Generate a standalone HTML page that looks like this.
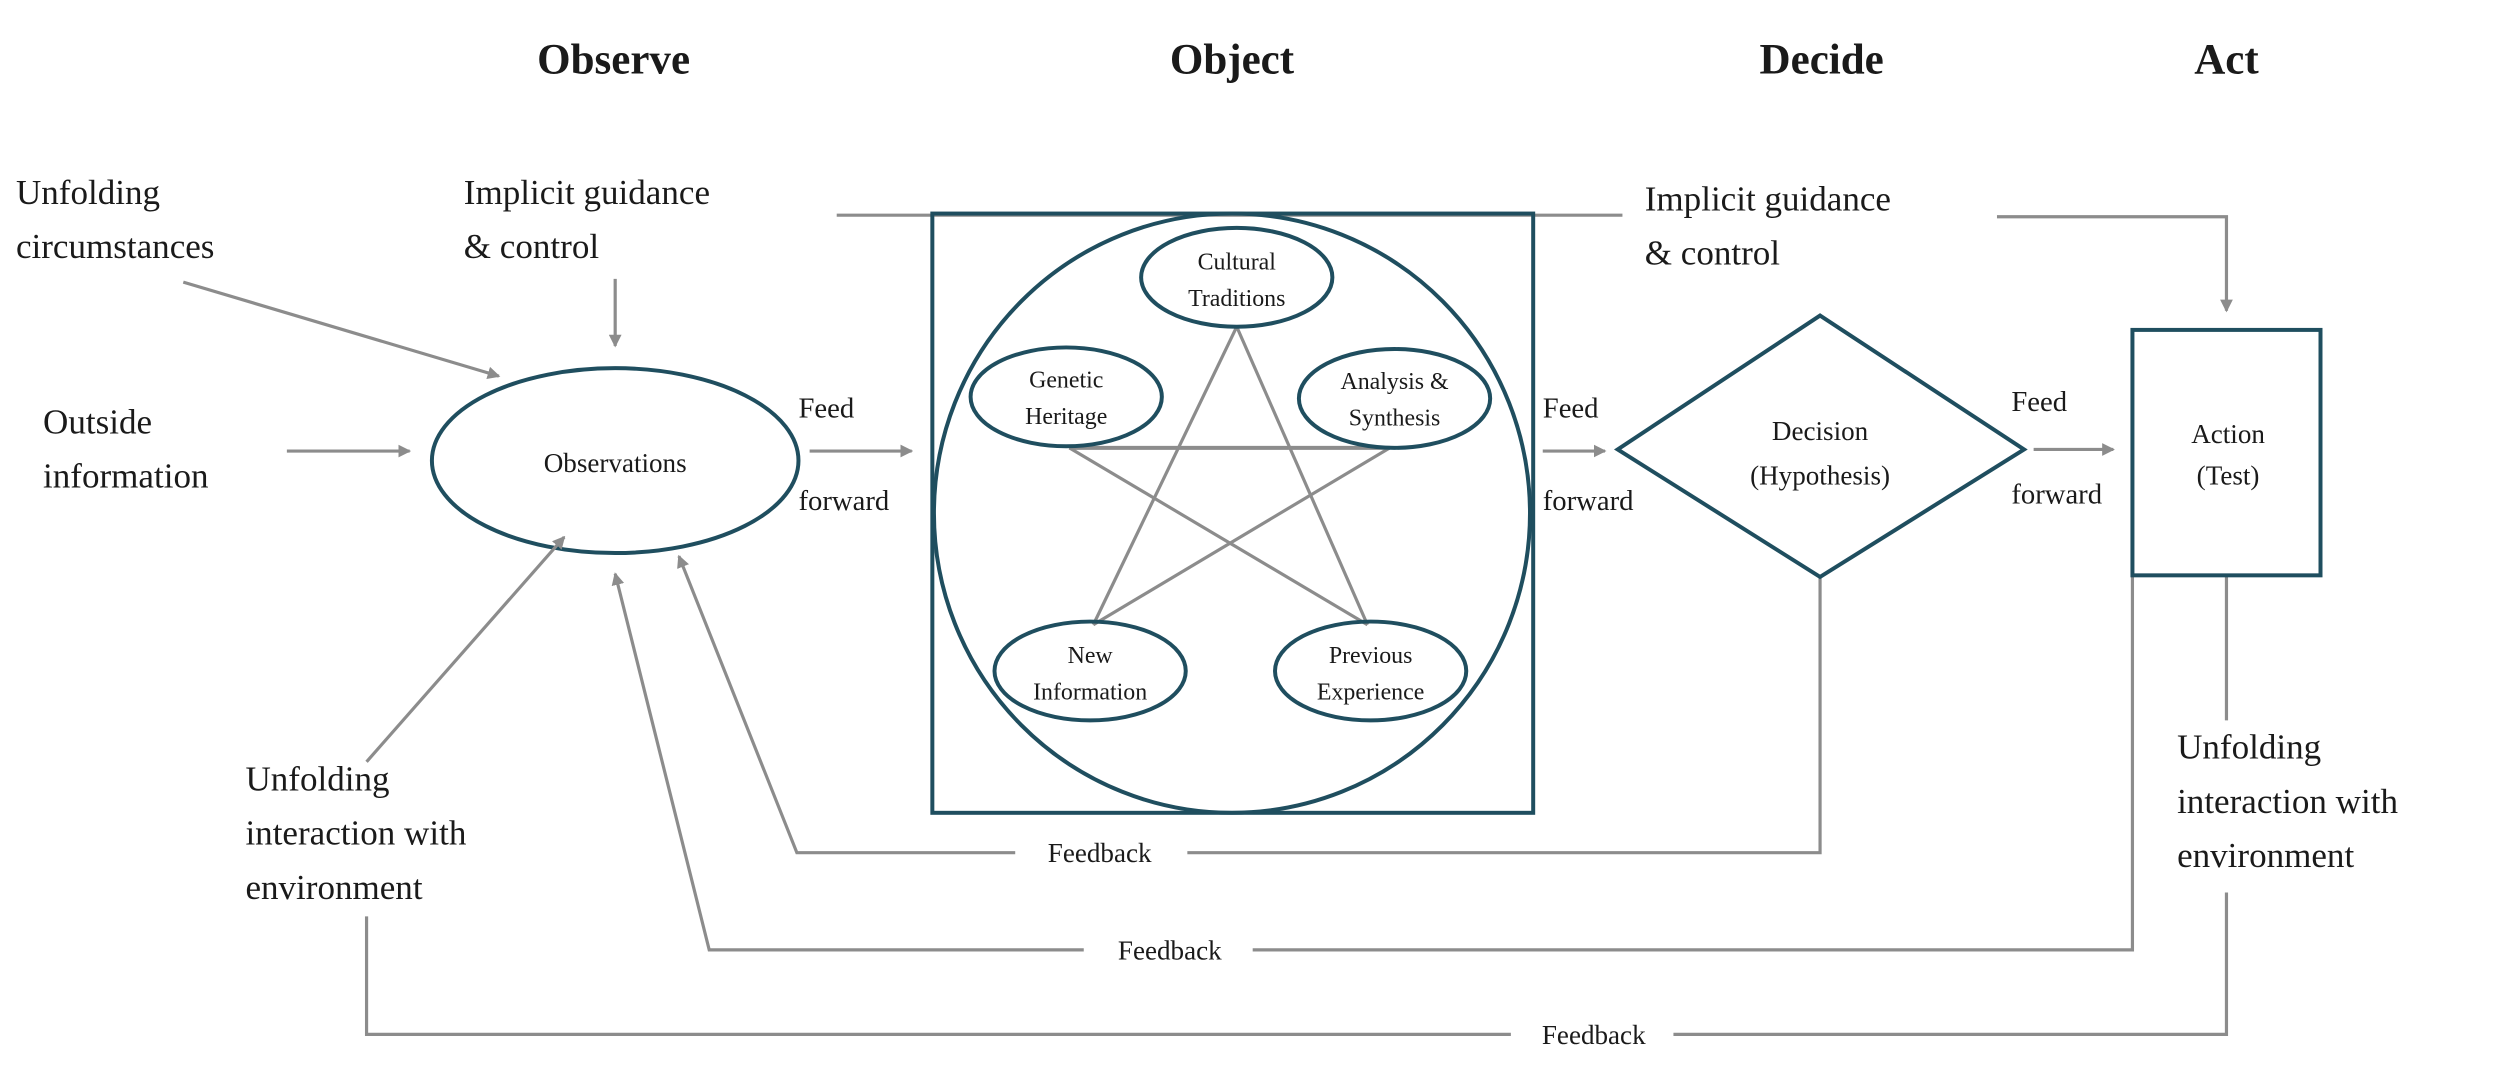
<!DOCTYPE html>
<html><head><meta charset="utf-8"><style>
html,body{margin:0;padding:0;background:#fff;}
svg{display:block;}
text{font-family:"Liberation Serif",serif;fill:#1a1a1a;}
</style></head><body>
<svg width="2499" height="1071" viewBox="0 0 1568 672" preserveAspectRatio="none" xmlns="http://www.w3.org/2000/svg">
<defs>
<marker id="a" markerWidth="8" markerHeight="8" refX="7" refY="4" orient="auto" markerUnits="userSpaceOnUse">
<path d="M0,0 L8,4 L0,8 z" fill="#8c8c8c"/></marker>
</defs>
<g font-weight="bold" font-size="27" text-anchor="middle">
<text x="385" y="46">Observe</text><text x="773" y="46">Object</text>
<text x="1143" y="46">Decide</text><text x="1397" y="46">Act</text>
</g>
<g font-size="22">
<text x="10" y="128">Unfolding</text><text x="10" y="162">circumstances</text>
<text x="291" y="128">Implicit guidance</text><text x="291" y="162">&amp; control</text>
<text x="1032" y="132">Implicit guidance</text><text x="1032" y="166">&amp; control</text>
<text x="27" y="272">Outside</text><text x="27" y="306">information</text>
<text x="154" y="496">Unfolding</text><text x="154" y="530">interaction with</text><text x="154" y="564">environment</text>
<text x="1366" y="476">Unfolding</text><text x="1366" y="510">interaction with</text><text x="1366" y="544">environment</text>
</g>
<g font-size="18">
<text x="501" y="262">Feed</text><text x="501" y="320">forward</text>
<text x="968" y="262">Feed</text><text x="968" y="320">forward</text>
<text x="1262" y="258">Feed</text><text x="1262" y="316">forward</text>
</g>
<g stroke="#8c8c8c" stroke-width="2" fill="none">
<line x1="115" y1="177" x2="313" y2="236" marker-end="url(#a)"/>
<line x1="386" y1="175" x2="386" y2="217" marker-end="url(#a)"/>
<line x1="180" y1="283" x2="257" y2="283" marker-end="url(#a)"/>
<line x1="508" y1="283" x2="572" y2="283" marker-end="url(#a)"/>
<line x1="968" y1="283" x2="1007" y2="283" marker-end="url(#a)"/>
<line x1="1276" y1="282" x2="1326" y2="282" marker-end="url(#a)"/>
<line x1="525" y1="135" x2="1018" y2="135"/>
<polyline points="1253,136 1397,136 1397,195" marker-end="url(#a)"/>
<polyline points="1142,362 1142,535 745,535"/>
<polyline points="637,535 500,535 426,349" marker-end="url(#a)"/>
<polyline points="1338,361 1338,596 786,596"/>
<polyline points="680,596 445,596 386,360" marker-end="url(#a)"/>
<line x1="1397" y1="361" x2="1397" y2="452"/>
<polyline points="1397,560 1397,649 1050,649"/>
<polyline points="948,649 230,649 230,575"/>
<line x1="776" y1="205" x2="686" y2="392"/>
<line x1="776" y1="205" x2="858" y2="392"/>
<line x1="671" y1="281" x2="858" y2="392"/>
<line x1="872" y1="281" x2="686" y2="392"/>
<line x1="671" y1="281" x2="872" y2="281" stroke-width="2.5"/>
</g>
<g stroke="#1f4e5f" stroke-width="2.5" fill="none">
<ellipse cx="386" cy="289" rx="115" ry="58" fill="#fff"/>
<rect x="585" y="134" width="377" height="376"/>
<ellipse cx="773" cy="322" rx="187" ry="188"/>
<ellipse cx="776" cy="174" rx="60" ry="31"/>
<ellipse cx="669" cy="249" rx="60" ry="31"/>
<ellipse cx="875" cy="250" rx="60" ry="31"/>
<ellipse cx="684" cy="421" rx="60" ry="31"/>
<ellipse cx="860" cy="421" rx="60" ry="31"/>
<polygon points="1142,198 1270,282 1142,362 1015,282" fill="#fff"/>
<rect x="1338" y="207" width="118" height="154" fill="#fff"/>
</g>
<line x1="230" y1="478" x2="354" y2="337" stroke="#8c8c8c" stroke-width="2" marker-end="url(#a)"/>
<g font-size="17" text-anchor="middle">
<text x="386" y="296">Observations</text>
<text x="1142" y="276">Decision</text><text x="1142" y="304">(Hypothesis)</text>
<text x="1398" y="278">Action</text><text x="1398" y="304">(Test)</text>
<text x="690" y="541">Feedback</text><text x="734" y="602">Feedback</text><text x="1000" y="655">Feedback</text>
</g>
<g font-size="15" text-anchor="middle">
<text x="776" y="169">Cultural</text><text x="776" y="192">Traditions</text>
<text x="669" y="243">Genetic</text><text x="669" y="266">Heritage</text>
<text x="875" y="244">Analysis &amp;</text><text x="875" y="267">Synthesis</text>
<text x="684" y="416">New</text><text x="684" y="439">Information</text>
<text x="860" y="416">Previous</text><text x="860" y="439">Experience</text>
</g>
</svg>
</body></html>
